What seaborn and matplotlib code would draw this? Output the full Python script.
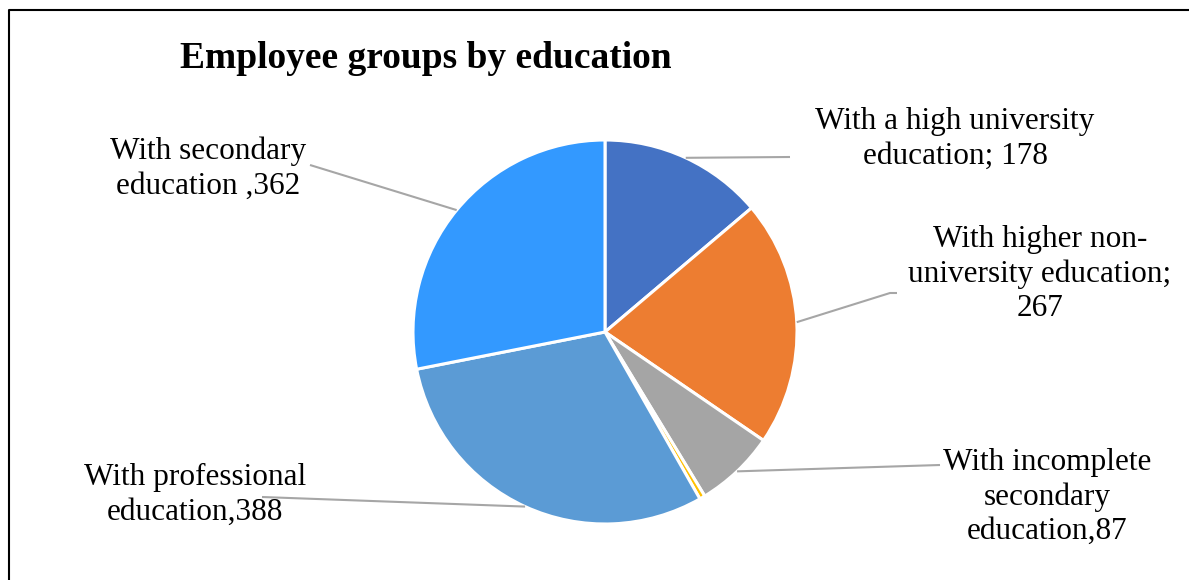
import matplotlib
matplotlib.use("Agg")
import matplotlib.pyplot as plt
import seaborn as sns
import numpy as np
from matplotlib.lines import Line2D

sns.set_theme(style="white")
plt.rcParams['font.family'] = ['Liberation Serif', 'DejaVu Serif']

# ---- data ----
categories = ["With a high university\neducation; 178",
              "With higher non-\nuniversity education;\n267",
              "With incomplete\nsecondary\neducation,87",
              "",
              "With professional\neducation,388",
              "With secondary\neducation ,362"]
values = [178, 267, 87, 6, 388, 362]
colors = ["#4472C4", "#ED7D31", "#A5A5A5", "#FFC000", "#5B9BD5", "#3399FF"]
title = "Employee groups by education"

# ---- layout (pixels) ----
W, H = 1189, 580
cx, cy, R = 605, 332, 192
# label centers (px, from top-left)
label_pos = [(955, 139), (1040, 274), (1047, 497), None, (195, 495), (208, 169)]
# leader line end points (px), possibly with elbow
leader_end = [[(790, 157)], [(890, 293), (897, 293)], [(940, 465)], None,
              [(262, 497)], [(310, 165)]]

fig = plt.figure(figsize=(W / 100, H / 100), dpi=100)
ax = fig.add_axes([0, 0, 1, 1])

def px(x, y):
    return (x - cx) / R, (cy - y) / R

wedges, _ = ax.pie(values, colors=colors, startangle=90, counterclock=False,
                   radius=1.0, center=(0, 0),
                   wedgeprops=dict(edgecolor="white", linewidth=2.2))
ax.set_aspect("auto")
ax.set_xlim(-cx / R, (W - cx) / R)
ax.set_ylim(-(H - cy) / R, cy / R)
ax.axis("off")

total = sum(values)
cum = 0
for i, v in enumerate(values):
    mid = (cum + v / 2) / total * 2 * np.pi
    cum += v
    if label_pos[i] is None:
        continue
    sx, sy = np.sin(mid), np.cos(mid)
    pts = [(sx, sy)] + [px(*p) for p in leader_end[i]]
    xs, ys = zip(*pts)
    ax.plot(xs, ys, color="#A6A6A6", lw=1.5, solid_capstyle="butt")
    lx, ly = px(*label_pos[i])
    ax.text(lx, ly, categories[i], ha="center", va="center", fontsize=22.5,
            linespacing=1.25, color="black")

fig.text(180 / W, 1 - 59 / H, title, ha="left", va="center", fontsize=27,
         fontweight="bold", color="black")

# outer frame (left and top)
fig.add_artist(Line2D([9 / W, 9 / W, 1.0], [0.0, 1 - 10 / H, 1 - 10 / H],
                      transform=fig.transFigure, color="black", lw=1.5))

fig.savefig("out.png", dpi=100, facecolor="white")
